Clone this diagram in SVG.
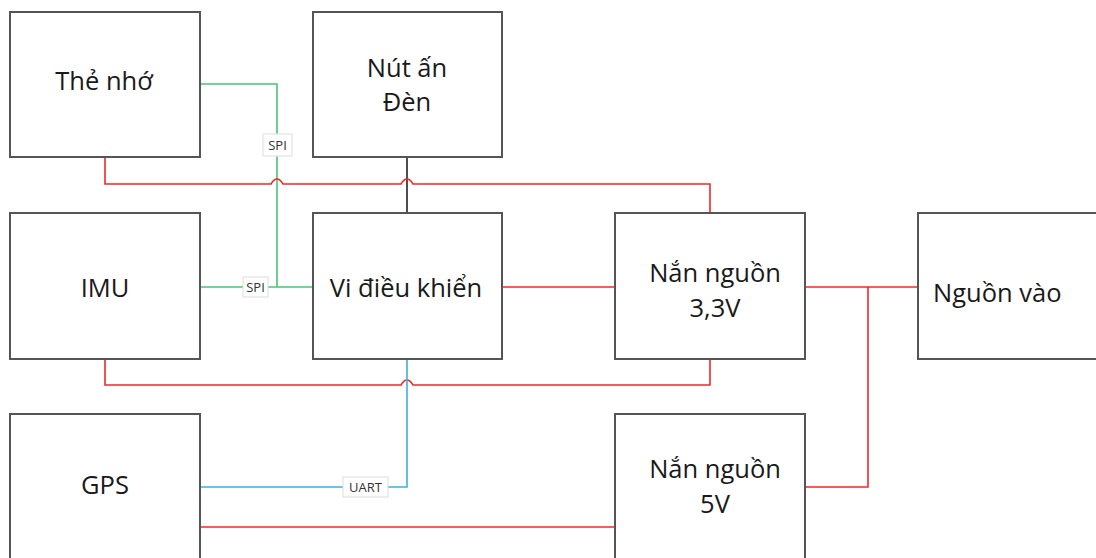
<svg xmlns="http://www.w3.org/2000/svg" width="1096" height="558" viewBox="0 0 1096 558">
<style>
.box{fill:#fff;stroke:#555;stroke-width:2}
.t{font-family:"Open Sans","Noto Sans",sans-serif;font-size:25.5px;fill:#1a1a1a;text-anchor:middle}
.red{fill:none;stroke:#f02828;stroke-width:1.6}
.grn{fill:none;stroke:#4cc07a;stroke-width:1.6}
.blu{fill:none;stroke:#40aee0;stroke-width:1.6}
.blk{fill:none;stroke:#222;stroke-width:1.6}
.lb{fill:#fff;stroke:#ddd;stroke-width:1}
.lt{font-family:"Open Sans","Noto Sans",sans-serif;font-size:13px;fill:#333;text-anchor:middle}
</style>
<rect width="1096" height="558" fill="#fff"/>
<g id="connectors">
<path class="grn" d="M200,84 H277 V287"/>
<path class="grn" d="M200,287 H313"/>
<path class="blk" d="M407,157 V213"/>
<path class="red" d="M105,157 V184 H271 Q277,174 283,184 H401 Q407,174 413,184 H710 V213"/>
<path class="red" d="M502,287 H615"/>
<path class="red" d="M805,287 H918"/>
<path class="red" d="M868,287 V487 H805"/>
<path class="red" d="M105,359 V385 H401 Q407,375 413,385 H710 V359"/>
<path class="blu" d="M407,359 V487 H200"/>
<path class="red" d="M200,527 H615"/>
<rect class="lb" x="263" y="134" width="29" height="22"/>
<text class="lt" x="277.5" y="150">SPI</text>
<rect class="lb" x="243" y="277" width="25" height="20"/>
<text class="lt" x="255.5" y="292">SPI</text>
<rect class="lb" x="343" y="477" width="45" height="20"/>
<text class="lt" x="365.5" y="492">UART</text>
</g>
<g id="the-nho"><rect class="box" x="10" y="12" width="190" height="145"/><text class="t" x="104" y="90">Thẻ nhớ</text></g>
<g id="nut-an-den"><rect class="box" x="313" y="12" width="189" height="145"/><text class="t" x="407" y="77">Nút ấn</text><text class="t" x="407" y="111">Đèn</text></g>
<g id="imu"><rect class="box" x="10" y="213" width="190" height="146"/><text class="t" x="105" y="297">IMU</text></g>
<g id="vi-dieu-khien"><rect class="box" x="313" y="213" width="189" height="146"/><text class="t" x="406" y="297">Vi điều khiển</text></g>
<g id="nan-nguon-33"><rect class="box" x="615" y="213" width="190" height="146"/><text class="t" x="715" y="282">Nắn nguồn</text><text class="t" x="715" y="317">3,3V</text></g>
<g id="nguon-vao"><rect class="box" x="918" y="213" width="190" height="146"/><text class="t" x="933" y="302" style="text-anchor:start">Nguồn vào</text></g>
<g id="gps"><rect class="box" x="10" y="414" width="190" height="150"/><text class="t" x="105" y="494">GPS</text></g>
<g id="nan-nguon-5"><rect class="box" x="615" y="414" width="190" height="150"/><text class="t" x="715" y="478">Nắn nguồn</text><text class="t" x="715" y="513">5V</text></g>
</svg>
